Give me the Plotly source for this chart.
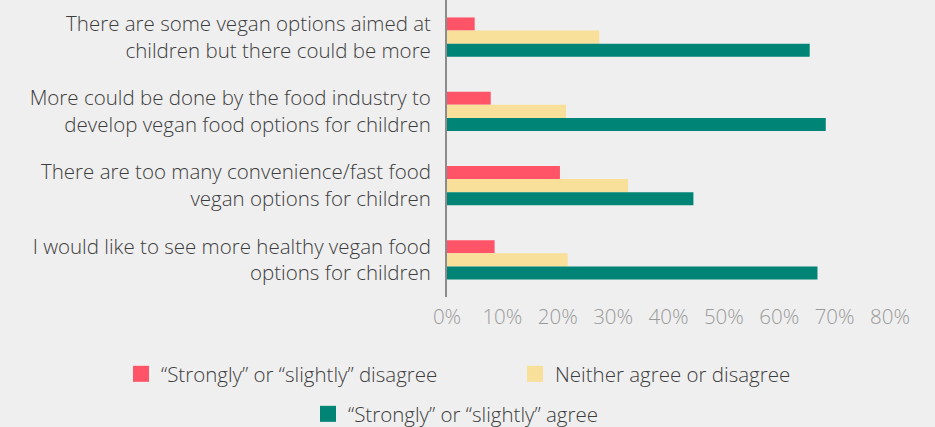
import plotly.graph_objects as go

categories = [
    "There are some vegan options aimed at<br>children but there could be more",
    "More could be done by the food industry to<br>develop vegan food options for children",
    "There are too many convenience/fast food<br>vegan options for children",
    "I would like to see more healthy vegan food<br>options for children",
]
series_names = [
    "\u201cStrongly\u201d or \u201cslightly\u201d disagree",
    "Neither agree or disagree",
    "\u201cStrongly\u201d or \u201cslightly\u201d agree",
]
disagree = [5.0, 7.9, 20.4, 8.6]
neither = [27.5, 21.5, 32.7, 21.8]
agree = [65.5, 68.4, 44.5, 66.9]
tick_vals = [0, 10, 20, 30, 40, 50, 60, 70, 80]
tick_text = ["0%", "10%", "20%", "30%", "40%", "50%", "60%", "70%", "80%"]

colors = ["#FF5468", "#F8E09A", "#008475"]
values = [disagree, neither, agree]

FONT = "Open Sans"
BG = "#efefef"
FS = 20.5

fig = go.Figure()
for name, vals, col in zip(series_names, values, colors):
    fig.add_trace(go.Bar(
        y=categories, x=vals, name=name, orientation="h",
        marker=dict(color=col, line=dict(width=0)), showlegend=False,
    ))

legend_ids = ["legend", "legend2", "legend3"]
for name, col, lid in zip(series_names, colors, legend_ids):
    fig.add_trace(go.Scatter(
        x=[None], y=[None], mode="markers", name=name,
        marker=dict(symbol="square", size=16, color=col, line=dict(width=0)),
        showlegend=True, legend=lid,
    ))

legend_font = dict(family=FONT, size=FS, color="#3d3d3d", weight=300)
common = dict(orientation="h", xref="container", yref="container",
              xanchor="left", yanchor="middle", bgcolor="rgba(0,0,0,0)",
              borderwidth=0, font=legend_font, itemsizing="trace")

fig.update_layout(
    width=935, height=427,
    paper_bgcolor=BG, plot_bgcolor=BG,
    margin=dict(l=447, r=45, t=0, b=130),
    barmode="group", bargap=0.47, bargroupgap=0,
    font=dict(family=FONT, size=FS, color="#3d3d3d", weight=300),
    xaxis=dict(range=[0, 80], tickvals=tick_vals, ticktext=tick_text,
               showgrid=False, zeroline=False, showline=False,
               ticklabelstandoff=5,
               tickfont=dict(family=FONT, size=FS, color="#9a9a9a", weight=300),
               fixedrange=True),
    yaxis=dict(autorange="reversed", showgrid=False, zeroline=False,
               showline=True, linecolor="#8c8c8c", linewidth=2,
               ticks="", ticklabelstandoff=10,
               tickfont=dict(family=FONT, size=FS, color="#3d3d3d", weight=300)),
    legend=dict(x=121 / 935, y=1 - 374 / 427, **common),
    legend2=dict(x=515 / 935, y=1 - 374 / 427, **common),
    legend3=dict(x=308 / 935, y=1 - 414 / 427, **common),
)

fig.write_html("out.html", config={"displayModeBar": False},
               post_script="document.body.style.margin='0';")
